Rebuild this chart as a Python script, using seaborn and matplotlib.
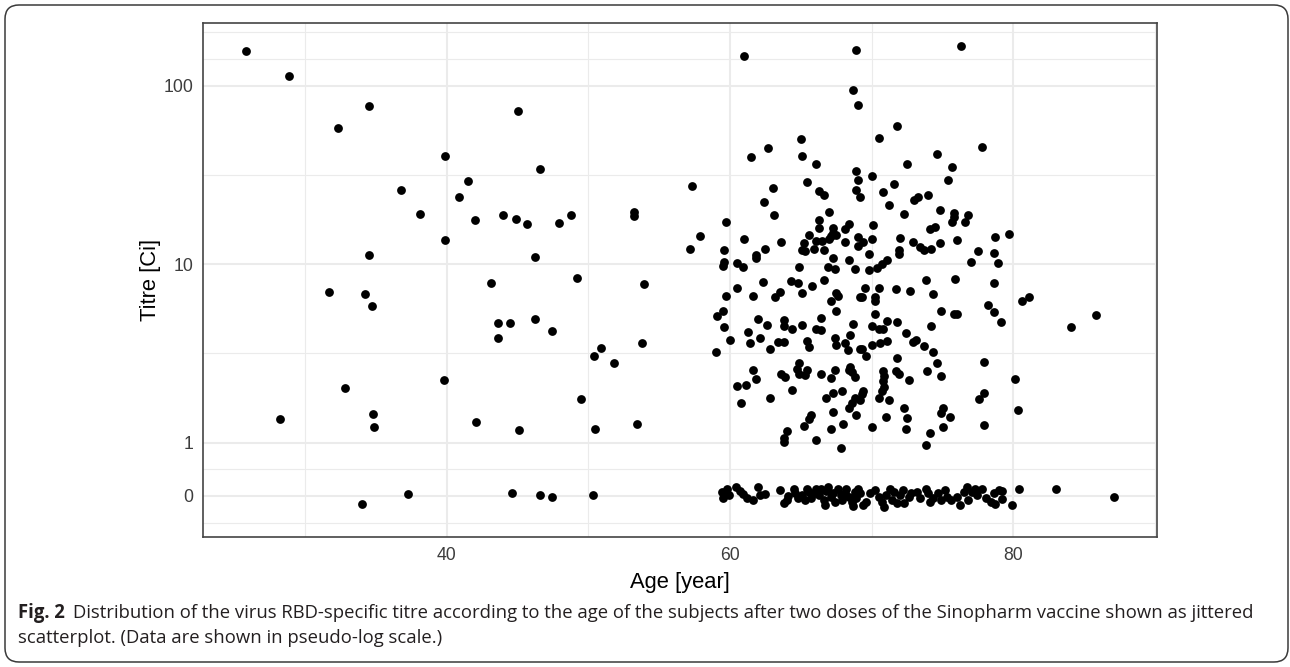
import numpy as np
import pandas as pd
import matplotlib
matplotlib.use("Agg")
import matplotlib.pyplot as plt
import seaborn as sns
from matplotlib.ticker import FixedLocator
from matplotlib.patches import FancyBboxPatch
from matplotlib.transforms import IdentityTransform
from matplotlib import font_manager as fm

# ---------------- data ----------------
# subjects with a positive titre: age [year], titre [Ci]
age_pos = [
    25.8, 28.9, 34.5, 32.3, 39.9, 36.8, 40.9, 38.1, 39.9, 34.5, 31.7, 34.2, 34.7, 39.8, 32.8, 28.2, 34.8, 34.9,
    41.5, 45.0, 46.6, 42.0, 44.0, 44.9, 45.7, 47.9, 48.8, 53.2, 53.2, 57.3, 57.9, 57.2, 46.2, 43.1, 49.2, 53.9,
    43.6, 44.5, 43.6, 46.2, 47.4, 50.9, 50.4, 51.8, 53.8, 49.5, 42.1, 45.1, 50.5, 53.4,
    61.0, 68.9, 68.7, 69.0, 65.0, 65.1, 66.1, 62.7, 61.5, 68.9, 69.0, 68.9, 69.2, 65.4, 63.0, 66.3, 66.6, 62.4,
    63.1, 59.7, 67.0, 66.3, 66.3, 68.4, 68.1, 67.3, 67.3, 67.1, 67.5, 67.0, 65.6, 66.1, 66.5, 65.2, 65.1, 65.3,
    65.9, 66.6, 68.1, 69.0, 69.0, 67.3, 68.4, 68.8, 67.4, 66.9, 64.9, 61.0, 63.6, 62.5, 61.8, 61.8, 59.6, 59.6,
    59.5, 60.5, 60.9,
    76.3, 71.8, 70.5, 77.8, 74.6, 72.5, 75.7, 75.4, 70.0, 71.6, 70.8, 73.0, 73.3, 74.0, 71.2, 72.3, 74.8, 75.8,
    75.8, 75.7, 76.8, 76.6, 74.1, 74.5, 70.1, 69.4, 70.0, 72.0, 72.9, 73.4, 73.7, 74.2, 74.8, 76.0, 71.9, 71.9,
    69.8, 71.1, 70.7, 70.4, 69.8, 78.7, 79.7, 77.5, 78.6, 78.9, 77.0,
    62.3, 60.5, 59.7, 61.6, 63.2, 63.5, 64.3, 64.8, 65.1, 65.8, 66.6, 67.5, 67.6, 67.1, 67.5, 69.2, 59.5, 59.1,
    59.6, 60.0, 59.0, 62.0, 62.6, 61.3, 61.4, 62.1, 62.8, 63.4, 63.8, 63.8, 63.8, 64.4, 65.1, 65.4, 65.6, 66.1,
    66.4, 66.4, 67.4, 67.5, 68.1, 68.3, 68.7, 68.5, 69.2, 64.9, 64.7, 65.4, 64.9, 65.3, 63.6, 63.9, 61.6, 61.8,
    60.5, 61.1, 60.8, 62.8, 64.4, 66.4, 67.4, 67.1, 68.5, 68.6, 68.8, 68.4, 66.8, 67.3, 67.9, 68.8, 68.6, 68.4,
    68.9, 67.3, 65.7, 65.6, 65.2, 64.0, 63.8, 63.8, 66.1, 67.1, 68.0, 67.8,
    69.5, 69.3, 70.5, 70.2, 70.2, 71.7, 72.7, 73.8, 75.9, 74.3, 78.6, 78.2, 78.6, 79.1, 74.9, 75.8, 76.0, 70.2,
    71.1, 71.8, 70.0, 70.5, 70.8, 72.4, 74.2, 72.9, 73.1, 73.7, 74.3, 71.1, 70.6, 70.0, 69.3, 69.6, 71.8, 74.6,
    77.9, 73.9, 74.9, 70.8, 70.9, 71.7, 71.9, 72.6, 70.8, 70.9, 70.7, 70.5, 71.2, 69.4, 69.3, 69.2, 72.3, 72.5,
    71.0, 75.0, 74.9, 75.5, 77.9, 77.6, 80.1, 80.3, 77.9, 70.0, 72.4, 75.0, 74.1, 73.8,
    80.6, 81.1, 84.1, 85.8,
]
titre_pos = [
    157, 114, 77, 58, 40.5, 26.2, 23.7, 19.1, 13.6, 11.2, 7.0, 6.8, 5.8, 2.24, 2.02, 1.35, 1.45, 1.22,
    29.3, 72, 34, 17.6, 18.8, 17.9, 16.7, 17.1, 18.9, 19.6, 18.7, 27.5, 14.4, 12.2, 11.0, 7.8, 8.4, 7.7,
    4.66, 4.66, 3.84, 4.91, 4.22, 3.40, 3.06, 2.81, 3.63, 1.75, 1.31, 1.18, 1.20, 1.27,
    147, 158, 94.4, 78, 50.1, 40.6, 36.3, 45, 39.9, 33.3, 29.5, 25.9, 23.8, 28.7, 26.7, 25.8, 24.5, 22.2,
    18.9, 17.2, 19.6, 17.7, 15.9, 16.8, 15.7, 16.0, 14.9, 14.4, 14.5, 13.9, 14.6, 13.5, 13.5, 13.1, 12.0, 11.8,
    12.2, 12.0, 13.3, 14.2, 12.6, 10.9, 10.5, 9.35, 9.42, 9.67, 9.67, 13.9, 13.4, 12.2, 11.2, 10.8, 12.0, 10.3,
    9.8, 10.2, 9.67,
    167, 59.3, 50.8, 45.1, 41.3, 36.5, 35.0, 29.6, 31.3, 28.3, 25.3, 22.9, 23.9, 24.5, 21.5, 19.1, 20.2, 19.4,
    18.3, 17.2, 18.8, 17.2, 15.7, 16.1, 16.6, 13.3, 13.9, 14.1, 13.4, 12.5, 12.0, 12.2, 13.2, 13.6, 12.0, 11.4,
    11.4, 10.5, 9.97, 9.55, 9.27, 14.2, 14.7, 11.9, 11.5, 10.2, 10.3,
    7.97, 7.32, 6.63, 6.61, 6.52, 7.0, 8.07, 7.8, 6.92, 7.54, 8.15, 6.87, 6.63, 6.21, 5.46, 6.52, 5.46, 5.12,
    4.43, 3.76, 3.23, 4.94, 4.58, 4.17, 3.63, 3.87, 3.36, 3.66, 3.66, 4.86, 4.52, 4.33, 4.56, 3.72, 3.45, 4.35,
    4.28, 5.01, 3.84, 3.52, 3.63, 3.30, 4.60, 4.01, 3.33, 2.78, 2.60, 2.55, 2.42, 2.39, 2.43, 2.34, 2.55, 2.28,
    2.08, 2.10, 1.67, 1.78, 1.97, 2.43, 2.55, 2.30, 2.67, 2.50, 2.34, 2.55, 1.77, 1.91, 1.95, 1.77, 1.66, 1.56,
    1.43, 1.49, 1.43, 1.36, 1.24, 1.16, 1.06, 1.01, 1.03, 1.20, 1.28, 0.90,
    7.38, 6.52, 7.38, 6.52, 6.24, 7.23, 7.07, 8.15, 8.26, 6.80, 7.80, 5.90, 5.41, 4.72, 5.46, 5.24, 5.24, 5.24,
    4.82, 4.72, 4.50, 4.31, 4.31, 4.13, 4.50, 3.68, 3.76, 3.48, 3.23, 3.72, 3.60, 3.52, 3.35, 3.06, 2.99, 2.81,
    2.82, 2.52, 2.35, 2.53, 2.36, 2.52, 2.42, 2.24, 2.21, 2.06, 1.95, 1.77, 1.73, 1.95, 1.87, 1.73, 1.57, 1.38,
    1.39, 1.57, 1.47, 1.39, 1.90, 1.75, 2.27, 1.52, 1.25, 1.23, 1.19, 1.22, 1.13, 0.96,
    6.24, 6.52, 4.43, 5.19,
]
# subjects with zero titre: age [year], plotted value including the vertical jitter
age_zero = [
    37.3, 34.0, 44.6, 46.6, 47.4, 50.3,
    59.4, 59.5, 59.8, 59.9, 60.4, 60.7, 60.9, 61.2, 61.6, 62.0, 62.1, 62.5, 63.5, 63.8, 64.0, 64.1, 64.5, 64.6,
    64.8, 65.1, 65.3, 65.4, 65.6, 65.7, 66.0, 66.1, 66.3, 66.4, 66.6, 66.8, 66.9, 66.7, 67.1, 67.3, 67.4, 67.6,
    67.8, 67.9, 68.1, 68.2, 68.4, 68.6, 68.7, 68.8, 68.9, 69.0,
    69.2, 69.4, 69.6, 69.9, 70.2, 70.5, 70.7, 70.9, 71.0, 71.3, 71.4, 71.6, 71.8, 72.0, 72.2, 72.3, 72.6, 72.8,
    73.2, 73.4, 73.8, 74.0, 74.1, 74.3, 74.7, 74.9, 75.2, 75.3, 75.6, 76.0, 76.2, 76.5, 76.7, 76.8, 77.1, 77.3,
    77.4, 77.8, 78.1, 78.4, 78.6, 78.7, 79.0, 79.2, 79.2, 79.9,
    80.4, 83.0, 87.1,
]
titre_zero = [
    0.04, -0.15, 0.05, 0.01, -0.02, 0.02,
    0.08, -0.04, 0.13, 0.02, 0.16, 0.10, 0.04, -0.04, -0.08, 0.16, 0.02, 0.04, 0.11, -0.13, -0.08, 0.00, 0.13, 0.06,
    -0.04, 0.02, -0.08, 0.14, 0.08, -0.04, 0.05, 0.13, 0.02, 0.14, -0.08, 0.09, 0.16, -0.17, -0.01, 0.06, -0.11, 0.13,
    0.02, -0.08, 0.05, 0.14, -0.01, -0.11, -0.19, 0.08, -0.04, 0.13,
    0.05, -0.17, -0.11, 0.05, 0.11, -0.01, -0.11, -0.20, 0.02, 0.14, -0.08, 0.08, -0.14, 0.02, 0.11, -0.14, -0.01, 0.05,
    0.08, -0.04, 0.14, 0.05, -0.11, -0.04, 0.05, -0.08, 0.11, -0.01, -0.08, -0.01, -0.17, 0.08, 0.16, -0.08, 0.08, 0.14,
    0.02, 0.13, -0.04, -0.11, 0.05, -0.15, 0.11, 0.10, -0.06, -0.16,
    0.13, 0.14, -0.01,
]
y_breaks = [0, 1, 10, 100]
y_labels = ["0", "1", "10", "100"]
x_breaks = [40, 60, 80]
x_minor = [30, 50, 70, 90]

x_title = "Age [year]"
y_title = "Titre [Ci]"
cap_bold = "Fig. 2"
cap_line1 = ("Distribution of the virus RBD-specific titre according to the age of the subjects "
             "after two doses of the Sinopharm vaccine shown as jittered")
cap_line2 = "scatterplot. (Data are shown in pseudo-log scale.)"

df = pd.DataFrame({
    "age": age_pos + age_zero,
    "titre": titre_pos + titre_zero,
})

# ---------------- pseudo-log style scale ----------------
K = 0.2986  # transformed distance between 0 and 1 (in decades)


def fwd(y):
    y = np.asarray(y, dtype=float)
    return np.where(y >= 1, np.log10(np.maximum(y, 1.0)), (y - 1.0) * K)


def inv(t):
    t = np.asarray(t, dtype=float)
    with np.errstate(over="ignore"):
        return np.where(t >= 0, np.power(10.0, np.minimum(t, 300)), 1.0 + t / K)


# ---------------- figure ----------------
sns.set_style("white")
plt.rcParams["font.family"] = ["Liberation Sans", "DejaVu Sans"]

W, H = 1290, 667
fig = plt.figure(figsize=(W / 100, H / 100), dpi=100)
fig.patch.set_facecolor("white")

pl, pr, pt, pb = 202.7, 1156.7, 22.7, 537.3
ax = fig.add_axes([pl / W, 1 - pb / H, (pr - pl) / W, (pb - pt) / H])
ax.set_yscale("function", functions=(fwd, inv))

sns.scatterplot(data=df, x="age", y="titre", color="black", s=40, linewidth=0,
                ax=ax, zorder=3, legend=False)

ax.set_xlim(22.775, 90.12)
t_lo, t_hi = -0.530, 2.353
ax.set_ylim(float(inv(t_lo)), float(inv(t_hi)))

ax.set_xticks(x_breaks)
ax.set_xticklabels([str(v) for v in x_breaks])
ax.xaxis.set_minor_locator(FixedLocator(x_minor))

ax.set_yticks(y_breaks)
ax.set_yticklabels(y_labels)
tb = fwd(y_breaks)
bd = tb[1] - tb[0]
ext = np.concatenate([[tb[0] - bd], tb, [tb[-1] + bd]])
minor_t = list((ext[:-1] + ext[1:]) / 2) + [ext[-1]]
ax.yaxis.set_minor_locator(FixedLocator(inv(minor_t)))

ax.set_axisbelow(True)
ax.grid(which="major", color="#EBEBEB", linewidth=1.5)
ax.grid(which="minor", color="#EBEBEB", linewidth=0.8)
for s in ax.spines.values():
    s.set_color("#444444")
    s.set_linewidth(1.2)
ax.tick_params(which="major", length=4.2, width=1.1, color="#333333",
               labelsize=12.7, labelcolor="#3D3D3D", pad=2.5)
ax.tick_params(which="minor", length=0)

ax.set_xlabel(x_title, fontsize=15.8, color="black", labelpad=6)
ax.set_ylabel(y_title, fontsize=15.8, color="black", labelpad=2)

# ---------------- caption ----------------
names = {f.name for f in fm.fontManager.ttflist}
cap_font = "Liberation Sans Narrow" if "Liberation Sans Narrow" in names else "Open Sans"
cap_fam = [cap_font, "DejaVu Sans"]
fig.canvas.draw()
renderer = fig.canvas.get_renderer()

x0 = 18
y1 = H - 618
y2 = H - 643
cap_col = "#231F20"
target = 1250 - x0
gap_px = 8


def caption_width(size):
    a = fig.text(x0, y1, cap_bold, transform=IdentityTransform(), fontsize=size,
                 fontweight="bold", family=cap_fam)
    b = fig.text(0, y1, cap_line1, transform=IdentityTransform(), fontsize=size, family=cap_fam)
    wa = a.get_window_extent(renderer).width
    wb = b.get_window_extent(renderer).width
    a.remove()
    b.remove()
    return wa + gap_px + wb


size = 12.0
for _ in range(4):
    size = size * target / caption_width(size)

tb_ = fig.text(x0, y1, cap_bold, transform=IdentityTransform(), fontsize=size,
               fontweight="bold", family=cap_fam, color=cap_col, va="baseline")
e1 = tb_.get_window_extent(renderer)
fig.text(e1.x1 + gap_px, y1, cap_line1, transform=IdentityTransform(), fontsize=size,
         family=cap_fam, color=cap_col, va="baseline")
fig.text(x0, y2, cap_line2, transform=IdentityTransform(), fontsize=size,
         family=cap_fam, color=cap_col, va="baseline")

frame = FancyBboxPatch((5, 5), 1283, 657, boxstyle="round,pad=0,rounding_size=14",
                       transform=IdentityTransform(), facecolor="none",
                       edgecolor="#3a3a3a", linewidth=1.1)
fig.add_artist(frame)

fig.savefig("out.png", dpi=100)
